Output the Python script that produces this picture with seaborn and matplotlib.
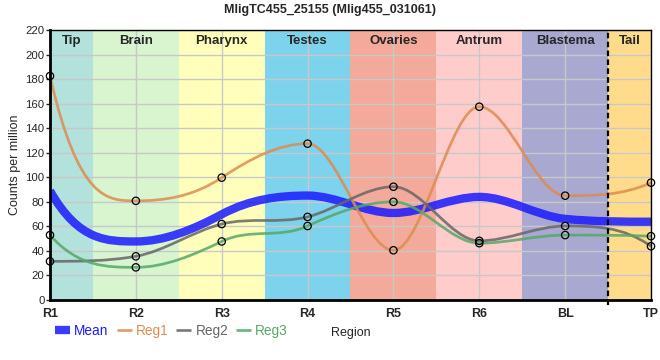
import numpy as np
import matplotlib
matplotlib.use("Agg")
import matplotlib.pyplot as plt
from matplotlib.path import Path
from matplotlib.patches import PathPatch
from matplotlib.lines import Line2D
import seaborn as sns

# -----------------------------
# Data
# -----------------------------
regions = ["R1", "R2", "R3", "R4", "R5", "R6", "BL", "TP"]
mean = [89.0, 47.7, 69.8, 85.1, 70.9, 84.0, 66.1, 63.8]
reg1 = [182.5, 80.8, 99.7, 127.4, 40.5, 157.5, 85.0, 95.6]
reg2 = [31.5, 35.6, 61.9, 67.7, 92.3, 48.2, 60.3, 43.8]
reg3 = [52.9, 26.6, 47.7, 60.3, 80.0, 46.3, 52.9, 52.0]

band_names = ["Tip", "Brain", "Pharynx", "Testes", "Ovaries", "Antrum", "Blastema", "Tail"]
band_colors = ["#b3e2dd", "#d8f5d0", "#ffffbb", "#7dd3eb", "#f4aa9b", "#ffcccc", "#a8a8d0", "#ffdc8c"]

series = [("Mean", mean, "#1a1aff", 8.0), ("Reg1", reg1, "#dd8c50", 2.6),
          ("Reg2", reg2, "#666666", 2.6), ("Reg3", reg3, "#55a868", 2.6)]


def curve_slopes(x, y):
    # monotone tangents (flat at local extremes), kept within 3x the secant
    x = np.asarray(x, float)
    y = np.asarray(y, float)
    n = len(x)
    h = np.diff(x)
    s = np.diff(y) / h
    t = np.zeros(n)
    for i in range(1, n - 1):
        if s[i - 1] * s[i] <= 0:
            continue
        p = (s[i - 1] * h[i] + s[i] * h[i - 1]) / (h[i - 1] + h[i])
        lim = 3 * min(abs(s[i - 1]), abs(s[i]))
        t[i] = np.sign(p) * min(2 * abs(p), lim)
    t[0] = np.sign(s[0]) * min(abs(3 * s[0] - t[1]), 3 * abs(s[0]))
    t[-1] = np.sign(s[-1]) * min(abs(3 * s[-1] - t[-2]), 3 * abs(s[-1]))
    return t


def smooth_path(xs, ys):
    xs = np.asarray(xs, float)
    ys = np.asarray(ys, float)
    t = curve_slopes(xs, ys)
    verts = [(xs[0], ys[0])]
    codes = [Path.MOVETO]
    for i in range(len(xs) - 1):
        dx = (xs[i + 1] - xs[i]) / 3
        verts += [(xs[i] + dx, ys[i] + dx * t[i]), (xs[i + 1] - dx, ys[i + 1] - dx * t[i + 1]),
                  (xs[i + 1], ys[i + 1])]
        codes += [Path.CURVE4] * 3
    return Path(verts, codes)


sns.set_style("white")
plt.rcParams['font.family'] = ['Liberation Sans', 'DejaVu Sans']

fig = plt.figure(figsize=(6.6, 3.6), dpi=100)
ax = fig.add_axes([50 / 660, 60 / 360, 601 / 660, 270 / 360])
x = np.arange(len(regions))

# background bands
edges = [0] + [i + 0.5 for i in range(len(regions) - 1)] + [len(regions) - 1]
for i, (name, col) in enumerate(zip(band_names, band_colors)):
    ax.axvspan(edges[i], edges[i + 1], color=col, lw=0, zorder=0)
    ax.text((edges[i] + edges[i + 1]) / 2, 211, name, ha="center", va="center",
            fontsize=9.5, fontweight="bold", zorder=5)

# grid
for yv in range(0, 221, 20):
    ax.axhline(yv, color="#c8c8c8", lw=1, zorder=1)
for xv in x:
    ax.axvline(xv, color="#c8c8c8", lw=1, zorder=1)

# tail separator
ax.plot([6.5, 6.5], [-4, 220], color="black", lw=1.6, ls=(0, (2.5, 1.5)), zorder=6, clip_on=False)

handles = []
for name, vals, col, lw in series:
    patch = PathPatch(smooth_path(x, vals), facecolor="none", edgecolor=col, lw=lw * 0.75,
                      alpha=0.85, zorder=3, capstyle="butt")
    ax.add_patch(patch)
    handles.append(Line2D([], [], color=col, lw=lw * 0.75, alpha=0.85, label=name,
                          solid_capstyle="butt"))
    if name != "Mean":
        sns.scatterplot(x=x, y=vals, ax=ax, s=28, facecolor="none", edgecolor="black",
                        linewidth=0.9, zorder=4, clip_on=False)

ax.set_xlim(0, 7)
ax.set_ylim(0, 220)
ax.set_xticks(x)
ax.set_xticklabels(regions, fontsize=9, fontweight="bold")
ax.set_yticks(range(0, 221, 20))
ax.tick_params(axis="y", labelsize=8.2, length=3, width=1, pad=1, left=True)
ax.tick_params(axis="x", length=0, pad=6)
for side in ["left", "bottom"]:
    ax.spines[side].set_linewidth(2)
for side in ["top", "right"]:
    ax.spines[side].set_linewidth(1)
for sp in ax.spines.values():
    sp.set_color("black")
    sp.set_zorder(7)

ax.set_ylabel("Counts per million", fontsize=9, labelpad=3)
ax.set_xlabel("Region", fontsize=9, labelpad=5)
fig.text(0.5, 1 - 10 / 360, "MligTC455_25155 (Mlig455_031061)", ha="center", va="center",
         fontsize=9, fontweight="bold")

fig.legend(handles=handles, loc="center left", bbox_to_anchor=(55 / 660, 1 - 331 / 360),
           ncol=4, frameon=False, fontsize=9.8, handlelength=1.1, handletextpad=0.3,
           columnspacing=0.6, labelcolor="linecolor", borderaxespad=0, borderpad=0)

fig.savefig("out.png", dpi=100)
